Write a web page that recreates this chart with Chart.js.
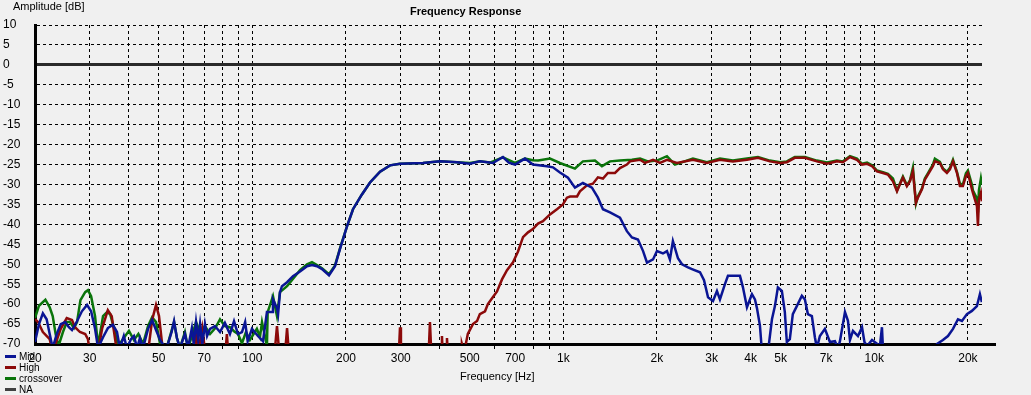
<!DOCTYPE html>
<html>
<head>
<meta charset="utf-8">
<script src="https://cdn.jsdelivr.net/npm/chart.js@4"></script>
<style>
html, body { margin: 0; padding: 0; background: #f0f0f0; }
#wrap { position: relative; width: 1031px; height: 395px; font-family: "Liberation Sans", Arial, sans-serif; color: #000; }
#c { position: absolute; left: 0; top: 0; }
.lbl { position: absolute; font-size: 11px; line-height: 13px; white-space: nowrap; }
.leg { position: absolute; left: 5px; padding-left: 14px; font-size: 10px; line-height: 11px; white-space: nowrap; }
.sw { position: absolute; left: 0; top: 4px; width: 11px; height: 3px; }
</style>
</head>
<body>
<div id="wrap">
  <canvas id="c" width="1031" height="395"></canvas>
  <div class="lbl" style="left:13px;top:0px">Amplitude [dB]</div>
  <div class="lbl" style="left:410px;top:5px;font-weight:bold">Frequency Response</div>
  <div class="lbl" style="left:460px;top:370px">Frequency [Hz]</div>
  <div id="legend"></div>
</div>
<script>
// grid lines and labelled frequencies on the x axis
var xGrid = [20, 30, 40, 50, 60, 70, 80, 90, 100, 200, 300, 400, 500, 600, 700, 800, 900,
  1000, 2000, 3000, 4000, 5000, 6000, 7000, 8000, 9000, 10000, 20000];
var xLabels = [20, 30, 50, 70, 100, 200, 300, 500, 700, 1000, 2000, 3000, 4000, 5000, 7000, 10000, 20000];

// Mid
var midHz = [20,20.6,21.2,21.8,22.3,22.8,23.5,24.2,25,25.7,
  26.3,27.3,28.3,29.4,30.3,31.2,31.9,33.1,34.3,35.6,
  36.7,37.5,38.6,39.5,40.7,41.6,42.6,43.5,44.5,46.2,
  47.6,49,50.5,52,53.5,55,56,57.2,58.5,60.7,
  62.1,63.9,64.8,65.9,67,67.9,69,70.4,71.5,73.1,
  75.8,78.7,81.6,84.7,87.3,89.9,92.6,94.8,96.6,99.7,
  104.2,108.2,111.4,115.7,116.5,120,121,122.7,124.5,129.3,
  135.1,142.3,149.9,155.5,161.4,167.5,176.4,184.4,191.3,201.5,
  210.7,225.1,239,257.4,277.1,298.4,353.7,401.1,455,500.6,
  539.3,593.8,639.4,668,699,752.6,798.5,885.7,926,975.3,
  1035,1090,1156,1236,1292,1341,1413,1521,1601,1662,
  1738,1805,1858,1943,2000,2091,2154,2202,2251,2337,
  2408,2517,2592,2751,2834,2920,3029,3119,3189,3309,
  3384,3698,3781,3895,4042,4132,4194,4288,4353,4550,
  4687,4791,4897,5044,5156,5233,5350,5470,5635,5848,
  5980,6115,6299,6441,6537,6684,6937,7199,7472,7640,
  7754,8048,8228,8351,8539,8861,9131,9297,9475,9833,
  10427,10583,10661,10820,15500,15904,16626,17254,17908,18580,
  19140,19853,20600,21380,21860,22180];
var midDb = [-69.5,-65,-62.3,-63.8,-67.5,-71,-67.5,-65,-64.5,-65.8,
  -66.5,-64.3,-61.8,-60.2,-61.8,-66.2,-71,-68.3,-66,-65.2,
  -67,-71,-68,-71,-68.8,-68,-71,-68.5,-71,-66.2,
  -64,-66.5,-69,-70.5,-70,-67,-64.3,-68.5,-71,-67.5,
  -71,-66,-70,-64.5,-69,-65,-70,-65,-68,-66.2,
  -65.5,-67,-64.7,-67.5,-64.3,-67.5,-67,-64.5,-69.3,-66.2,
  -68,-69.3,-62,-62,-58.8,-61,-62.5,-57,-55.5,-54.5,
  -53,-51.8,-50.5,-50.2,-50.5,-51.2,-52.8,-50.5,-46.2,-40.5,
  -36.2,-32.5,-29.5,-26.8,-25.2,-24.8,-24.6,-24.2,-24.4,-24.8,
  -24.2,-24.6,-23.1,-24.5,-25,-23.5,-25,-25.4,-25.7,-27,
  -28.3,-30.8,-29.6,-30.8,-33.3,-36.2,-37,-38.3,-41.7,-43.3,
  -43.8,-46.7,-49.6,-48.8,-46.7,-47.3,-46.7,-48.8,-44.2,-48.5,
  -50,-50.8,-51.2,-52,-54,-58.3,-59.2,-56.7,-58.8,-55,
  -52.9,-52.9,-55.8,-60.8,-57.5,-58.8,-61,-65.4,-72,-72,
  -63.8,-60.5,-55.8,-56.7,-62,-69.5,-68.8,-62.5,-60.5,-57.9,
  -58.8,-62.5,-63,-68.3,-71,-68,-66.2,-69.5,-69.3,-71,
  -69.3,-62,-64.2,-69,-66.7,-68,-65.8,-69.5,-70.5,-69,
  -70.5,-65.8,-71,-75,-75,-70,-69,-68,-66.2,-63.8,
  -64.2,-62.5,-61.7,-60.5,-57.5,-59.5];

// High
var highHz = [20,20.45,21.2,22.3,22.8,24.2,25.3,26.3,26.9,27.9,
  29,29.6,30,31.9,32.9,34.3,35.3,36.7,46.2,47.6,
  49,50.1,51.6,65,66,67,69,70.5,82,82.8,
  83.6,118,120,122,127.5,129.3,131,296,298.4,300.5,
  369,372.5,376,405,407.1,409,420,422.5,425,470,
  472,480,493,512,528,539,560,572,594,612,
  635,659,689,715,742,770,798,829,860,906,
  954,997,1027,1051,1107,1131,1191,1245,1292,1341,
  1391,1466,1521,1601,1638,1765,1830,1943,2045,2154,
  2319,2611,2896,3189,3510,3895,4226,4617,4972,5233,
  5551,5980,6537,7042,7583,7929,8351,8795,9131,9475,
  9833,10200,10661,11060,11480,11830,12080,12360,12730,13020,
  13310,13610,13810,14230,14540,14870,15430,15660,16250,16630,
  17120,17510,17910,18440,18850,19270,19710,20000,20600,20760,
  21380,21540,21700,22020,22180];
var highDb = [-63.8,-64.5,-67,-68.8,-72,-66.2,-63.5,-64,-65.8,-67,
  -67.5,-68.8,-72,-72,-66,-61.5,-63,-72,-72,-64,
  -60.2,-63,-72,-72,-67,-72,-66,-72,-72,-67.5,
  -72,-72,-65.5,-72,-72,-66,-72,-72,-65.8,-72,
  -72,-64.5,-72,-72,-68,-72,-72,-68.5,-72,-72,
  -70,-72,-67.5,-65,-64.2,-62.5,-61.8,-60,-58.2,-56.8,
  -53.8,-51.5,-49.5,-46.8,-43.2,-42,-41.2,-39.8,-39.2,-37.5,
  -36.2,-35,-33.3,-33,-33,-31.7,-30.2,-29.8,-28.2,-28.5,
  -27.1,-27.1,-25.9,-25,-24.2,-23.8,-24.6,-23.8,-24.6,-23.8,
  -24.6,-23.8,-24.6,-23.8,-24.2,-23.8,-23.3,-24.2,-24.6,-24.4,
  -23.3,-23.3,-24.2,-24.8,-24.2,-24.4,-23.1,-23.8,-25,-24.8,
  -25.4,-26.7,-27.1,-27.5,-29.2,-31.7,-30,-28.3,-30.4,-29.2,
  -26.7,-34.6,-33.3,-31.2,-28.8,-27.5,-25.4,-24.2,-24.6,-26.2,
  -27.1,-26.2,-24.2,-27.1,-30.4,-30.4,-27.9,-27.1,-31.2,-32.1,
  -35.4,-40.4,-33.8,-32.1,-34.2];

// crossover (sum)
var xoverHz = [20,20.6,21.6,22.3,22.8,23.3,23.8,24.6,25.3,25.9,
  26.7,27.3,28,29,29.6,30.3,31.2,31.9,33.1,34.1,
  34.9,35.9,37,40.1,41.6,43,44.5,46.2,47.6,49,
  50.5,53,56,57.2,58.5,60.7,62.1,63.9,65.9,67.9,
  70.4,73.1,76,78.7,81.6,84.7,87.3,89.9,92.6,95.4,
  98.2,103.4,105.8,107.4,111.4,112,116.5,120,122.7,129.3,
  142.3,149.9,155.5,161.4,167.5,176.4,184.4,191.3,201.5,210.7,
  225.1,239,257.4,277.1,298.4,353.7,401.1,455,500.6,539.3,
  580.7,639.4,699,752.6,798.5,830,906,975,1090,1156,
  1264,1331,1413,1521,1662,1765,1870,2000,2154,2285,
  2611,2896,3189,3510,3895,4226,4617,4972,5233,5551,
  5980,6537,7042,7583,7929,8351,8795,9131,9475,9833,
  10200,10661,11060,11480,11830,12080,12360,12730,13020,13310,
  13610,13810,14230,14540,14870,15430,15660,16250,16630,17120,
  17510,17910,18440,18850,19270,19710,20000,20600,20760,21380,
  21540,21700,22020,22180];
var xoverDb = [-63.5,-60.4,-58.9,-60.8,-63,-67.5,-70.5,-67,-64.5,-64.5,
  -66,-64.5,-59,-57,-56.5,-58,-63,-70.5,-63,-62,
  -62.5,-66,-70.5,-66.7,-69,-67.5,-70,-65.5,-63.3,-64.5,
  -70,-71,-64.5,-68.5,-71,-67,-71,-68,-64.5,-67,
  -65.5,-67.5,-66,-63.8,-65.5,-65.8,-66.8,-67.5,-69.8,-67,
  -69,-66.2,-68.2,-64.5,-70.5,-62,-58,-63,-57,-55.5,
  -51.5,-50,-49.5,-50.2,-51,-52.5,-50.3,-46,-40.5,-36.2,
  -32.5,-29.5,-26.8,-25.2,-24.8,-24.6,-24.2,-24.4,-24.6,-24.2,
  -24.5,-23.2,-24.6,-23.5,-23.9,-24,-23.5,-24.6,-26,-24.2,
  -24,-25.4,-24.2,-24,-23.8,-23.5,-24.2,-24,-22.9,-25,
  -23.5,-24.4,-23.5,-24,-23.5,-23.1,-24,-24.4,-24.2,-23.1,
  -23.1,-24,-24.5,-24,-24.2,-22.9,-23.5,-24.8,-24.5,-25.2,
  -26.5,-26.9,-27.3,-28.5,-31.5,-29.8,-28,-30.2,-29,-25.8,
  -34.8,-33,-31,-28.5,-27.2,-25,-23.5,-24.3,-26,-26.8,
  -25.8,-23.8,-26.8,-29.8,-30,-27.2,-26.5,-30,-31.5,-33.5,
  -37,-31.5,-28.5,-30];

function pairs(hz, db) {
  var out = [];
  for (var i = 0; i < hz.length; i++) out.push({ x: hz[i], y: db[i] });
  return out;
}

var FONT = "'Liberation Sans', Arial, sans-serif";

// bottom axis line runs a little past the plot
var axisExtend = {
  id: 'axisExtend',
  afterDraw: function (chart) {
    var a = chart.chartArea, ctx = chart.ctx;
    ctx.save();
    ctx.strokeStyle = '#000';
    ctx.lineWidth = 3;
    ctx.beginPath();
    ctx.moveTo(a.right - 1, a.bottom + 0.5);
    ctx.lineTo(a.right + 14, a.bottom + 0.5);
    ctx.stroke();
    ctx.restore();
  }
};

var chart = new Chart(document.getElementById('c').getContext('2d'), {
  type: 'line',
  data: {
    datasets: [
      { label: 'Mid', data: pairs(midHz, midDb), borderColor: '#0a1594', borderWidth: 2.5 },
      { label: 'High', data: pairs(highHz, highDb), borderColor: '#8c0a0a', borderWidth: 2.5 },
      { label: 'crossover', data: pairs(xoverHz, xoverDb), borderColor: '#0a740a', borderWidth: 2.5 },
      { label: 'NA', data: [], borderColor: '#404040', borderWidth: 2.5 }
    ]
  },
  options: {
    responsive: false,
    animation: false,
    elements: { point: { radius: 0 }, line: { tension: 0 } },
    layout: { padding: { left: 3, right: 49, top: 25, bottom: 0 } },
    plugins: { legend: { display: false }, tooltip: { enabled: false } },
    scales: {
      x: {
        type: 'logarithmic',
        min: 20,
        max: 22200,
        afterBuildTicks: function (s) { s.ticks = xGrid.map(function (v) { return { value: v }; }); },
        afterFit: function (s) { s.height = 51; },
        ticks: {
          autoSkip: false,
          maxRotation: 0,
          padding: 2,
          color: '#000',
          font: { family: FONT, size: 12 },
          callback: function (v) {
            if (xLabels.indexOf(v) < 0) return '';
            return v >= 1000 ? (v / 1000) + 'k' : String(v);
          }
        },
        grid: {
          color: '#000',
          lineWidth: 1,
          tickLength: 5,
          tickColor: function (c) { return c.tick && xLabels.indexOf(c.tick.value) >= 0 ? 'rgba(0,0,0,0)' : '#000'; },
          tickBorderDash: [3, 3]
        },
        border: { color: '#000', width: 3, dash: [3, 3] }
      },
      y: {
        min: -70,
        max: 10,
        afterFit: function (s) { s.width = 32; },
        ticks: {
          stepSize: 5,
          crossAlign: 'far',
          color: '#000',
          font: { family: FONT, size: 12 }
        },
        grid: {
          drawTicks: false,
          color: function (c) { return c.tick && c.tick.value === 0 ? '#2a2a2a' : '#000'; },
          lineWidth: function (c) { return c.tick && c.tick.value === 0 ? 3 : 1; }
        },
        border: {
          color: '#000',
          width: 3,
          dash: function (c) { return c.tick && c.tick.value === 0 ? [] : [3, 3]; }
        }
      }
    }
  },
  plugins: [axisExtend]
});

// legend below the y axis, bottom-left
var legendBox = document.getElementById('legend');
chart.data.datasets.forEach(function (ds, i) {
  var row = document.createElement('div');
  row.className = 'leg';
  row.style.top = (351 + i * 11) + 'px';
  row.innerHTML = '<span class="sw" style="background:' + ds.borderColor + '"></span>' + ds.label;
  legendBox.appendChild(row);
});
</script>
</body>
</html>
